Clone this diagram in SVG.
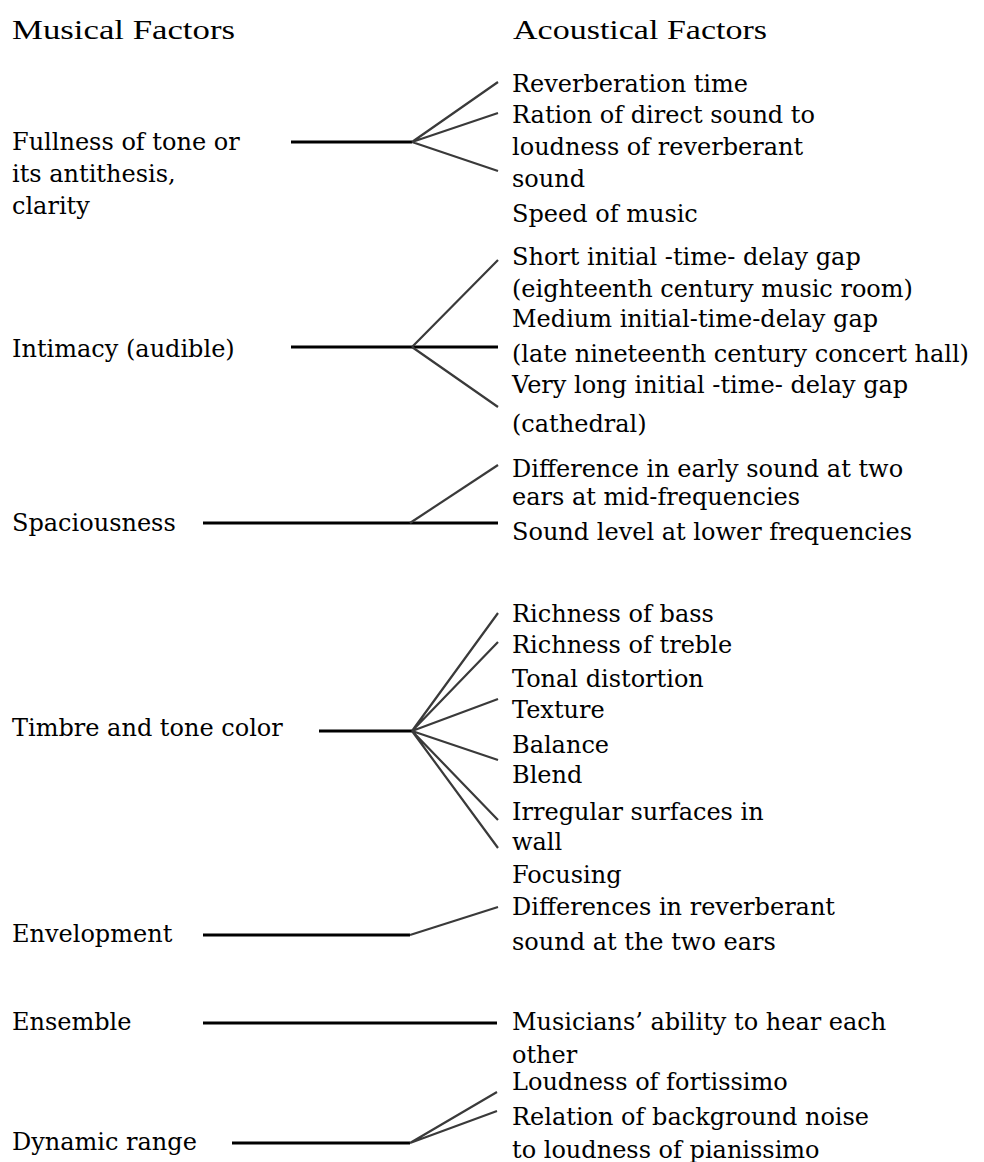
<svg xmlns="http://www.w3.org/2000/svg" width="984" height="1162" viewBox="0 0 984 1162">
<style>
text{font-family:"DejaVu Serif","Liberation Serif",serif;font-size:24px;fill:#000}
.hd{font-family:"Liberation Serif",serif;font-size:28px}
.h{stroke:#000;stroke-width:3;fill:none}
.f{stroke:#3a3a3a;stroke-width:2.2;fill:none}
</style>
<rect width="984" height="1162" fill="#fff"/>
<g id="headers">
<text class="hd" x="12" y="39" textLength="223" lengthAdjust="spacingAndGlyphs">Musical Factors</text>
<text class="hd" x="513" y="39" textLength="254" lengthAdjust="spacingAndGlyphs">Acoustical Factors</text>
</g>
<g id="connectors">
<path class="h" d="M291 142H412"/>
<path class="f" d="M412 142L498 82M412 142L498 113M412 142L498 171"/>
<path class="h" d="M291 347H498"/>
<path class="f" d="M412 347L498 260M412 347L498 407"/>
<path class="h" d="M203 523H498"/>
<path class="f" d="M410 523L498 465"/>
<path class="h" d="M319 731H412"/>
<path class="f" d="M412 731L498 613M412 731L498 642M412 731L498 699M412 731L498 760M412 731L498 820M412 731L498 848"/>
<path class="h" d="M203 935H410"/>
<path class="f" d="M410 935L498 907"/>
<path class="h" d="M203 1023H497"/>
<path class="h" d="M232 1143H410"/>
<path class="f" d="M410 1143L497 1092M410 1143L497 1111"/>
</g>
<g id="fullness">
<text x="12" y="150">Fullness of tone or</text>
<text x="12" y="182">its antithesis,</text>
<text x="12" y="214">clarity</text>
</g>
<g id="fullness-factors">
<text x="512" y="92">Reverberation time</text>
<text x="512" y="123">Ration of direct sound to</text>
<text x="512" y="155">loudness of reverberant</text>
<text x="512" y="187">sound</text>
<text x="512" y="222">Speed of music</text>
</g>
<g id="intimacy">
<text x="12" y="357">Intimacy (audible)</text>
</g>
<g id="intimacy-factors">
<text x="512" y="265">Short initial -time- delay gap</text>
<text x="512" y="297">(eighteenth century music room)</text>
<text x="512" y="327">Medium initial-time-delay gap</text>
<text x="512" y="362">(late nineteenth century concert hall)</text>
<text x="512" y="393">Very long initial -time- delay gap</text>
<text x="512" y="432">(cathedral)</text>
</g>
<g id="spaciousness">
<text x="12" y="531">Spaciousness</text>
</g>
<g id="spaciousness-factors">
<text x="512" y="477">Difference in early sound at two</text>
<text x="512" y="505">ears at mid-frequencies</text>
<text x="512" y="540">Sound level at lower frequencies</text>
</g>
<g id="timbre">
<text x="12" y="736">Timbre and tone color</text>
</g>
<g id="timbre-factors">
<text x="512" y="622">Richness of bass</text>
<text x="512" y="653">Richness of treble</text>
<text x="512" y="687">Tonal distortion</text>
<text x="512" y="718">Texture</text>
<text x="512" y="753">Balance</text>
<text x="512" y="783">Blend</text>
<text x="512" y="820">Irregular surfaces in</text>
<text x="512" y="850">wall</text>
<text x="512" y="883">Focusing</text>
</g>
<g id="envelopment">
<text x="12" y="942">Envelopment</text>
</g>
<g id="envelopment-factors">
<text x="512" y="915">Differences in reverberant</text>
<text x="512" y="950">sound at the two ears</text>
</g>
<g id="ensemble">
<text x="12" y="1030">Ensemble</text>
</g>
<g id="ensemble-factors">
<text x="512" y="1030">Musicians’ ability to hear each</text>
<text x="512" y="1063">other</text>
</g>
<g id="dynamic">
<text x="12" y="1150">Dynamic range</text>
</g>
<g id="dynamic-factors">
<text x="512" y="1090">Loudness of fortissimo</text>
<text x="512" y="1125">Relation of background noise</text>
<text x="512" y="1158">to loudness of pianissimo</text>
</g>
</svg>
